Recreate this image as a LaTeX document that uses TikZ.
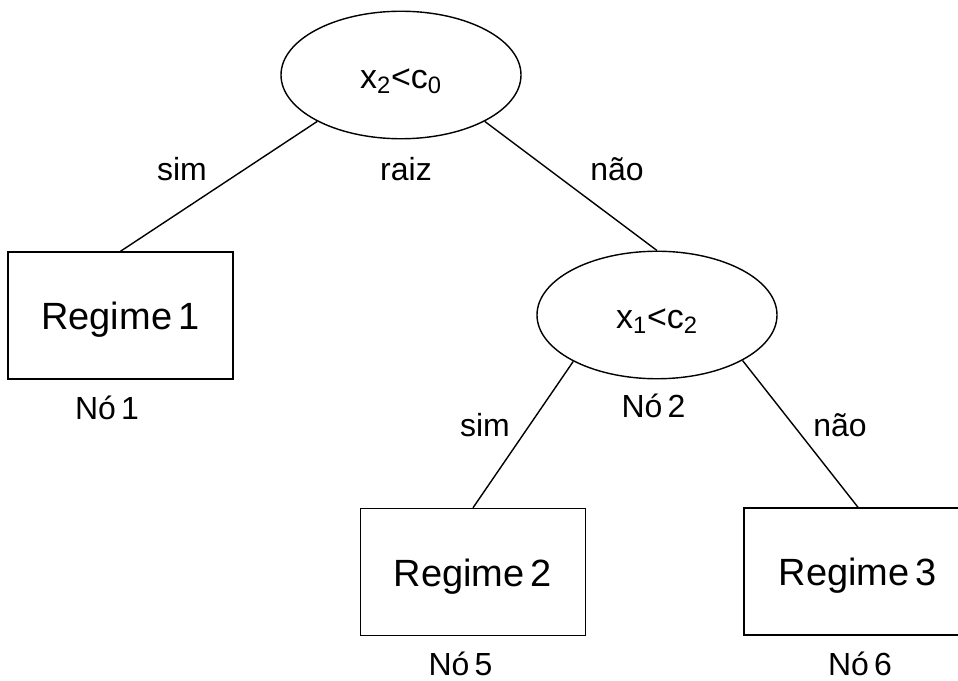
\documentclass[tikz,border=0pt]{standalone}
\usepackage{fontspec}
\setmainfont{Liberation Sans}
\usetikzlibrary{shapes.geometric}
\newcommand{\tamrot}{\fontsize{18.2}{22}\selectfont}
\newcommand{\tamreg}{\fontsize{21.6}{26}\selectfont}
\newcommand{\tamtst}{\fontsize{19.3}{23}\selectfont}
\tikzset{
  regime/.style={draw, line width=0.8pt, rectangle, minimum width=4.5cm,
    minimum height=2.54cm, inner sep=0pt, font=\tamreg,
    text height=16.4pt, text depth=0pt},
  teste/.style={draw, line width=0.8pt, ellipse, minimum width=4.8cm,
    minimum height=2.55cm, inner sep=0pt, font=\tamtst,
    text height=15.3pt, text depth=0pt},
  rotulo/.style={anchor=base, inner sep=0pt, font=\tamrot},
  ramo/.style={line width=0.8pt}
}

\begin{document}
\begin{tikzpicture}

    \useasboundingbox (0, 0) rectangle (19.16, 13.62);
    \clip (0, 0) rectangle (19.16, 13.62);

    % testes (elipses)
    \node[teste] (raiz) at (8.02, 12.12) {x\textsubscript{2}<c\textsubscript{0}};
    \node[teste] (no2) at (13.14, 7.32) {x\textsubscript{1}<c\textsubscript{2}};

    % regimes (folhas)
    \node[regime] (reg1) at (2.41, 7.31) {Regime\,1};
    \node[regime] (reg2) at (9.46, 2.18) {Regime\,2};
    \node[regime, minimum width=4.56cm] (reg3) at (17.16, 2.19) {Regime\,3};

    % ramos
    \draw[ramo] (raiz.-151) -- (reg1.north);
    \draw[ramo] (raiz.-29) -- (no2.north);
    \draw[ramo] (no2.-151) -- (reg2.north);
    \draw[ramo] (no2.-28) -- (reg3.north);

    % rotulos
    \node[rotulo] (sim1) at (3.64, 10.0) {sim};
    \node[rotulo] (rraiz) at (8.12, 10.0) {raiz};
    \node[rotulo] (nao1) at (12.34, 10.0) {não};
    \node[rotulo] (rno1) at (2.14, 5.22) {Nó\,1};
    \node[rotulo] (rno2) at (13.07, 5.26) {Nó\,2};
    \node[rotulo] (sim2) at (9.70, 4.88) {sim};
    \node[rotulo] (nao2) at (16.80, 4.88) {não};
    \node[rotulo] (rno5) at (9.21, 0.12) {Nó\,5};
    \node[rotulo] (rno6) at (17.20, 0.12) {Nó\,6};

\end{tikzpicture}
\end{document}
